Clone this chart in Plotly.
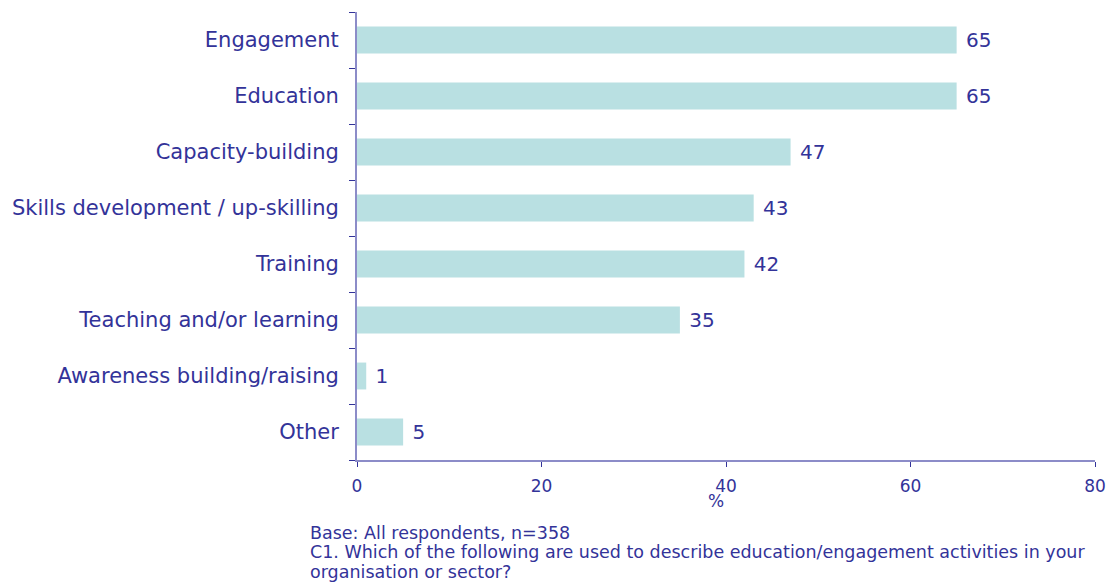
import plotly.graph_objects as go

categories = [
    "Engagement",
    "Education",
    "Capacity-building",
    "Skills development / up-skilling",
    "Training",
    "Teaching and/or learning",
    "Awareness building/raising",
    "Other",
]
values = [65, 65, 47, 43, 42, 35, 1, 5]
x_ticks = [0, 20, 40, 60, 80]
note_lines = [
    "Base: All respondents, n=358",
    "C1. Which of the following are used to describe education/engagement activities in your",
    "organisation or sector?",
]

TEXT = "#333399"
AXIS = "#8c8cc8"
BAR = "#b9e0e2"
FONT = "DejaVu Sans"

fig = go.Figure(
    go.Bar(
        x=values,
        y=categories,
        orientation="h",
        marker=dict(color=BAR, line=dict(width=0)),
        width=0.48,
        text=[f" {v}" for v in values],
        textposition="outside",
        textfont=dict(family=FONT, size=20, color=TEXT),
        cliponaxis=False,
        hoverinfo="skip",
    )
)

fig.update_layout(
    width=1118,
    height=582,
    margin=dict(l=356, r=17, t=12, b=122),
    plot_bgcolor="white",
    paper_bgcolor="white",
    showlegend=False,
    font=dict(family=FONT, color=TEXT),
)

fig.update_xaxes(
    range=[0, 80],
    tickvals=x_ticks,
    ticktext=[str(t) for t in x_ticks],
    showgrid=False,
    zeroline=False,
    showline=True,
    linecolor=AXIS,
    linewidth=2,
    ticks="outside",
    ticklen=5,
    tickcolor=TEXT,
    tickfont=dict(family=FONT, size=17, color=TEXT),
    ticklabelstandoff=5,
)

fig.update_yaxes(
    categoryorder="array",
    categoryarray=categories[::-1],
    autorange=True,
    showgrid=False,
    zeroline=False,
    showline=True,
    linecolor=AXIS,
    linewidth=2,
    ticks="outside",
    tickson="boundaries",
    ticklen=6,
    tickcolor=TEXT,
    tickfont=dict(family=FONT, size=21, color=TEXT),
    ticklabelstandoff=12,
)

# axis unit label
fig.add_annotation(
    text="%", x=0.486, y=-0.065, xref="paper", yref="paper",
    showarrow=False, font=dict(family=FONT, size=17, color=TEXT),
    xanchor="center", yanchor="top",
)

# base / question note beneath the chart, one annotation per line
note_y = [-0.163, -0.205, -0.250]
for line, yy in zip(note_lines, note_y):
    fig.add_annotation(
        text=line, x=-0.067, y=yy, xref="paper", yref="paper",
        showarrow=False, align="left",
        font=dict(family=FONT, size=17.5, color=TEXT),
        xanchor="left", yanchor="middle",
    )

fig.write_html("out.html")
